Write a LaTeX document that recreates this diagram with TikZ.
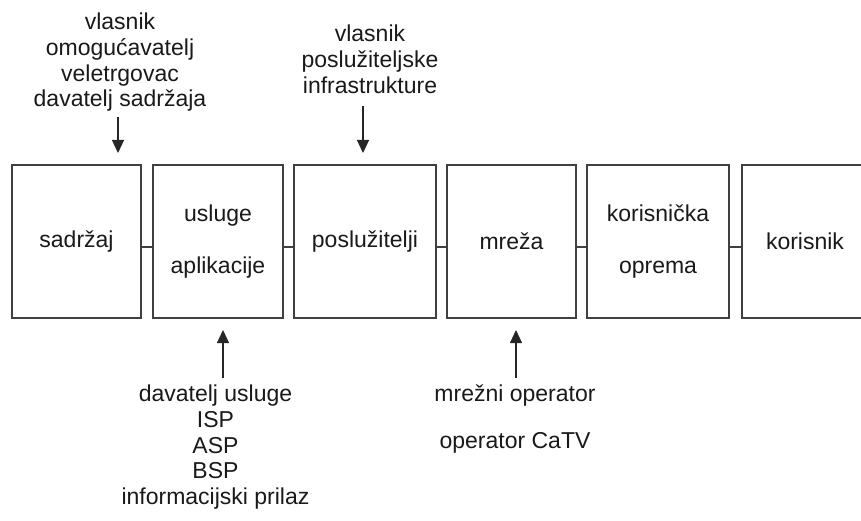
\documentclass[tikz,border=0pt]{standalone}
\usepackage{fontspec}
\setmainfont{Liberation Sans}
\usetikzlibrary{arrows.meta}
\newcommand{\diaglbl}{\fontsize{23}{25.7}\selectfont}
\begin{document}
\begin{tikzpicture}[x=1pt,y=-1pt,
 box/.style={draw=black!75, line width=1.2pt, minimum height=153pt, inner sep=0pt, align=center, font=\diaglbl, text=black!90},
 lbl/.style={align=center, inner sep=0pt, font=\diaglbl, text=black!90},
 arr/.style={draw=black!85, line width=1.2pt, -{Triangle[length=13pt,width=12pt]}},
 conn/.style={draw=black!75, line width=1.2pt}]
\useasboundingbox (0,0) rectangle (861,521);
% boxes
\node[box, minimum width=129pt] (b1) at (76.5,241.5) {sadržaj};
\node[box, minimum width=130pt] (b2) at (218,241.5) {usluge\\[27pt]aplikacije};
\node[box, minimum width=142pt] (b3) at (365,241.5) {poslužitelji};
\node[box, minimum width=129pt] (b4) at (511.5,241.5) {mreža};
\node[box, minimum width=142pt] (b5) at (658,241.5) {korisnička\\[27pt]oprema};
\node[box, minimum width=126pt] (b6) at (805,241.5) {korisnik};
% connectors
\draw[conn] ([yshift=-5.5pt]b1.east) -- ([yshift=-5.5pt]b2.west);
\draw[conn] ([yshift=-5.5pt]b2.east) -- ([yshift=-5.5pt]b3.west);
\draw[conn] ([yshift=-5.5pt]b3.east) -- ([yshift=-5.5pt]b4.west);
\draw[conn] ([yshift=-5.5pt]b4.east) -- ([yshift=-5.5pt]b5.west);
\draw[conn] ([yshift=-5.5pt]b5.east) -- ([yshift=-5.5pt]b6.west);
% top labels
\node[lbl, anchor=north] (t1) at (120,13) {vlasnik\\omogućavatelj\\veletrgovac\\davatelj sadržaja};
\coordinate (t1s) at (118,117);
\coordinate (t1e) at (118,153);
\draw[arr] (t1s) -- (t1e);
\node[lbl, anchor=north] (t2) at (370,25) {vlasnik\\poslužiteljske\\infrastrukture};
\coordinate (t2s) at (363,106);
\coordinate (t2e) at (363,153);
\draw[arr] (t2s) -- (t2e);
% bottom labels
\node[lbl, anchor=north] (u1) at (215.5,385) {davatelj usluge\\ISP\\ASP\\BSP\\informacijski prilaz};
\coordinate (u1s) at (223,378);
\coordinate (u1e) at (223,330);
\draw[arr] (u1s) -- (u1e);
\node[lbl, anchor=north] (u2) at (515,385) {mrežni operator\\[21pt]operator CaTV};
\coordinate (u2s) at (516,378);
\coordinate (u2e) at (516,330);
\draw[arr] (u2s) -- (u2e);
\end{tikzpicture}
\end{document}
